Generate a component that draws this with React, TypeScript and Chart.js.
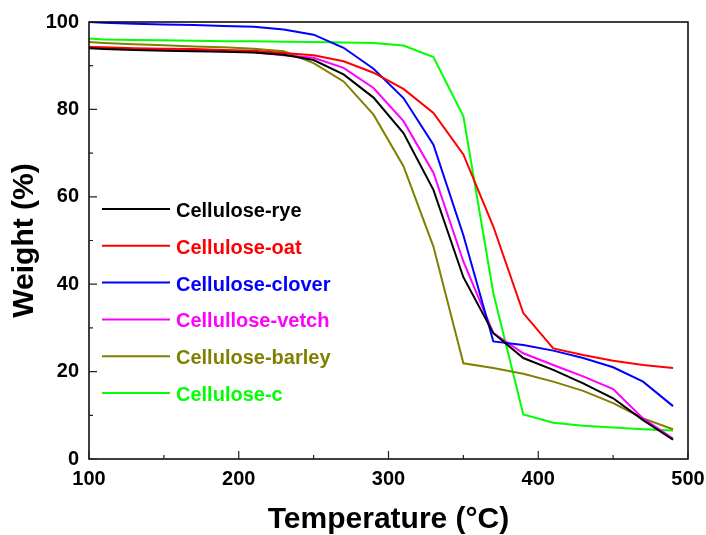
import React, { useEffect, useRef } from 'react';
import { Chart, registerables } from 'chart.js';

Chart.register(...registerables);

const temperatures = [100, 110, 130, 150, 170, 190, 210, 230, 250, 270, 290, 310, 330, 350, 370, 390, 410, 430, 450, 470, 490];

const rye = [94.0, 93.8, 93.6, 93.4, 93.3, 93.2, 93.0, 92.5, 91.3, 88.0, 82.7, 74.6, 61.6, 41.6, 28.8, 23.1, 20.4, 17.3, 13.9, 8.9, 4.4];
const oat = [94.3, 94.2, 94.0, 93.9, 93.8, 93.6, 93.4, 92.9, 92.4, 91.0, 88.4, 84.7, 79.2, 69.7, 53.2, 33.4, 25.3, 23.8, 22.5, 21.5, 20.8];
const clover = [100.0, 99.8, 99.6, 99.4, 99.3, 99.1, 98.9, 98.3, 97.1, 94.1, 89.3, 82.6, 71.9, 51.2, 26.9, 26.1, 24.8, 23.1, 21.0, 17.7, 12.1];
const vetch = [94.2, 94.0, 93.8, 93.6, 93.5, 93.3, 93.1, 92.4, 91.8, 89.5, 84.9, 77.3, 65.5, 45.2, 28.8, 24.2, 21.5, 18.9, 16.0, 9.3, 4.7];
const barley = [95.4, 95.2, 94.9, 94.7, 94.4, 94.2, 93.9, 93.3, 90.6, 86.4, 78.8, 67.0, 48.6, 21.9, 20.8, 19.5, 17.7, 15.6, 12.8, 9.3, 6.8];
const celluloseC = [96.2, 96.0, 95.9, 95.8, 95.7, 95.6, 95.6, 95.5, 95.4, 95.3, 95.2, 94.6, 92.0, 78.4, 38.0, 10.2, 8.3, 7.6, 7.2, 6.8, 6.5];

const seriesLabels = ['Cellulose-rye', 'Cellulose-oat', 'Cellulose-clover', 'Cellullose-vetch', 'Cellulose-barley', 'Cellulose-c'];
const seriesColors = ['#000000', '#ff0000', '#0000ff', '#ff00ff', '#808000', '#00ff00'];
const seriesValues = [rye, oat, clover, vetch, barley, celluloseC];

const xTicks = [100, 200, 300, 400, 500];
const yTicks = [0, 20, 40, 60, 80, 100];
const xMinorTicks = [150, 250, 350, 450];
const yMinorTicks = [10, 30, 50, 70, 90];

const FONT = '"Liberation Sans", Arial, sans-serif';

const framePlugin = {
  id: 'frame',
  afterDatasetsDraw(chart: any) {
    const { ctx, chartArea, scales } = chart;
    const { left, right, top, bottom } = chartArea;
    ctx.save();
    ctx.strokeStyle = '#000';
    ctx.lineWidth = 1.5;
    ctx.strokeRect(left, top, right - left, bottom - top);
    ctx.lineWidth = 1.2;
    ctx.strokeStyle = '#222';
    ctx.beginPath();
    for (const v of xTicks) {
      const px = scales.x.getPixelForValue(v);
      ctx.moveTo(px, bottom);
      ctx.lineTo(px, bottom - 8);
    }
    for (const v of xMinorTicks) {
      const px = scales.x.getPixelForValue(v);
      ctx.moveTo(px, bottom);
      ctx.lineTo(px, bottom - 4);
    }
    for (const v of yTicks) {
      const py = scales.y.getPixelForValue(v);
      ctx.moveTo(left, py);
      ctx.lineTo(left + 8, py);
    }
    for (const v of yMinorTicks) {
      const py = scales.y.getPixelForValue(v);
      ctx.moveTo(left, py);
      ctx.lineTo(left + 4, py);
    }
    ctx.stroke();

    // legend
    ctx.font = `bold 20px ${FONT}`;
    ctx.textBaseline = 'middle';
    ctx.textAlign = 'left';
    chart.data.datasets.forEach((ds: any, i: number) => {
      const y = top + 187 + i * 36.8;
      ctx.strokeStyle = ds.borderColor;
      ctx.lineWidth = 2;
      ctx.beginPath();
      ctx.moveTo(left + 13, y);
      ctx.lineTo(left + 81, y);
      ctx.stroke();
      ctx.fillStyle = ds.borderColor;
      ctx.fillText(ds.label, left + 87, y + 2.5);
    });
    ctx.restore();
  },
};

export default function App() {
  const canvasRef = useRef<HTMLCanvasElement | null>(null);

  useEffect(() => {
    if (!canvasRef.current) return;
    const chart = new Chart(canvasRef.current, {
      type: 'line',
      data: {
        datasets: seriesLabels.map((label, i) => ({
          label,
          data: temperatures.map((t, j) => ({ x: t, y: seriesValues[i][j] })),
          borderColor: seriesColors[i],
          backgroundColor: seriesColors[i],
          borderWidth: 2,
          pointRadius: 0,
          tension: 0,
          fill: false,
        })),
      },
      options: {
        responsive: false,
        animation: false,
        devicePixelRatio: 1,
        layout: { padding: { left: 0, right: 18, top: 22, bottom: 0 } },
        plugins: {
          legend: { display: false },
          tooltip: { enabled: false },
        },
        scales: {
          x: {
            type: 'linear',
            min: 100,
            max: 500,
            afterFit: (s: any) => {
              s.height = 76;
              s.paddingLeft = 0;
              s.paddingRight = 0;
            },
            afterBuildTicks: (s: any) => { s.ticks = xTicks.map((v) => ({ value: v })); },
            ticks: {
              color: '#000',
              font: { family: FONT, size: 20, weight: 'bold' },
              padding: 8,
              maxRotation: 0,
            },
            grid: { display: false, drawTicks: false },
            border: { display: false },
            title: {
              display: true,
              text: 'Temperature (°C)',
              color: '#000',
              font: { family: FONT, size: 30, weight: 'bold', lineHeight: 1.05 },
              padding: { top: 0, bottom: 0 },
            },
          },
          y: {
            min: 0,
            max: 100,
            afterFit: (s: any) => {
              s.width = 89;
              s.paddingTop = 0;
              s.paddingBottom = 0;
            },
            afterBuildTicks: (s: any) => { s.ticks = yTicks.map((v) => ({ value: v })); },
            ticks: {
              color: '#000',
              font: { family: FONT, size: 20, weight: 'bold' },
              padding: 10,
            },
            grid: { display: false, drawTicks: false },
            border: { display: false },
            title: {
              display: true,
              text: 'Weight (%)',
              color: '#000',
              font: { family: FONT, size: 30, weight: 'bold', lineHeight: 1.2 },
              padding: { top: 7, bottom: 0 },
            },
          },
        },
      },
      plugins: [framePlugin],
    });
    return () => chart.destroy();
  }, []);

  return (
    <div style={{ position: 'absolute', left: 0, top: 0, width: 706, height: 535, background: '#fff' }}>
      <canvas ref={canvasRef} width={706} height={535} />
    </div>
  );
}
